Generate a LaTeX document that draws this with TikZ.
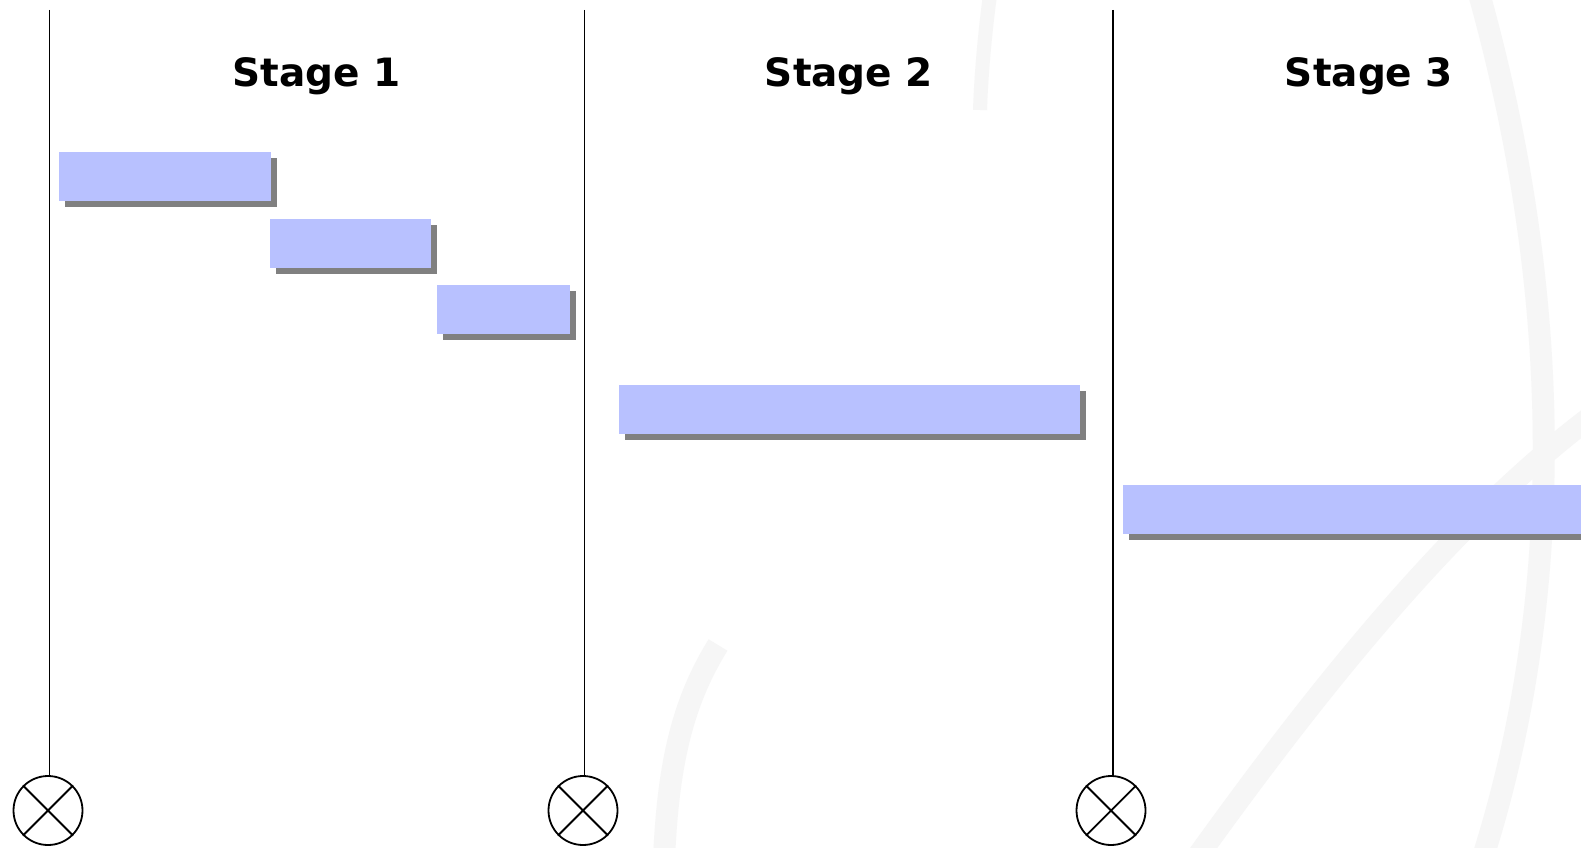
\documentclass[tikz,border=0pt]{standalone}
\usepackage{fontspec}
\setmainfont{DejaVu Sans}
\usepackage{xcolor}
\usepackage{tikz}
\usetikzlibrary{shadows}
\definecolor{barfill}{HTML}{B8C1FF}
\definecolor{barshade}{HTML}{808080}
\definecolor{ink}{HTML}{000000}
\definecolor{faint}{HTML}{F6F6F6}
\tikzset{
  rule/.style={draw=ink, line width=1.8pt},
  bgarc/.style={draw=faint, line width=22pt},
  bar/.style={fill=barfill, draw=none, anchor=north west, inner sep=0pt, outer sep=0pt,
    minimum height=49pt,
    drop shadow={shadow xshift=6pt, shadow yshift=-6pt, fill=barshade, opacity=1}},
  xnode/.style={circle, draw=ink, line width=1.8pt, minimum size=69pt, inner sep=0pt},
  stage/.style={text=ink, font=\fontsize{39}{47}\selectfont\bfseries},
}

\begin{document}
\begin{tikzpicture}[x=1pt, y=-1pt]
  \clip (0,0) rectangle (1581,848);
  \fill[white] (0,0) rectangle (1581,848);

  % faint background swirls
  \draw[bgarc] (1478,-10) .. controls (1565,300) and (1565,600) .. (1482,860);
  \draw[bgarc] (1195,860) .. controls (1310,700) and (1450,520) .. (1600,410);
  \draw[bgarc] (664,860) .. controls (668,760) and (684,700) .. (718,645);
  \draw[bgarc, line width=14pt] (990,-5) .. controls (984,40) and (981,80) .. (980,110);

  % stage titles
  \node[stage] (s1) at (316.5,76) {Stage 1};
  \node[stage] (s2) at (849,76) {Stage 2};
  \node[stage] (s3) at (1369,76) {Stage 3};

  % milestones
  \coordinate (t1) at (49.5,10);
  \coordinate (t2) at (584.5,10);
  \coordinate (t3) at (1113,10);
  \node[xnode] (x1) at (48,810.5) {};
  \node[xnode] (x2) at (583,810.5) {};
  \node[xnode] (x3) at (1111,810.5) {};

  \draw[rule] (t1) -- (t1 |- x1.north);
  \draw[rule] (t2) -- (t2 |- x2.north);
  \draw[rule] (t3) -- (t3 |- x3.north);
  \draw[rule] (x1.45) -- (x1.225) (x1.135) -- (x1.315);
  \draw[rule] (x2.45) -- (x2.225) (x2.135) -- (x2.315);
  \draw[rule] (x3.45) -- (x3.225) (x3.135) -- (x3.315);

  % task bars
  \node[bar, minimum width=212pt] (b1) at (59,152) {};
  \node[bar, minimum width=161pt] (b2) at (270,219) {};
  \node[bar, minimum width=133pt] (b3) at (437,285) {};
  \node[bar, minimum width=461pt] (b4) at (619,385) {};
  \node[bar, minimum width=480pt] (b5) at (1123,485) {};
\end{tikzpicture}
\end{document}
